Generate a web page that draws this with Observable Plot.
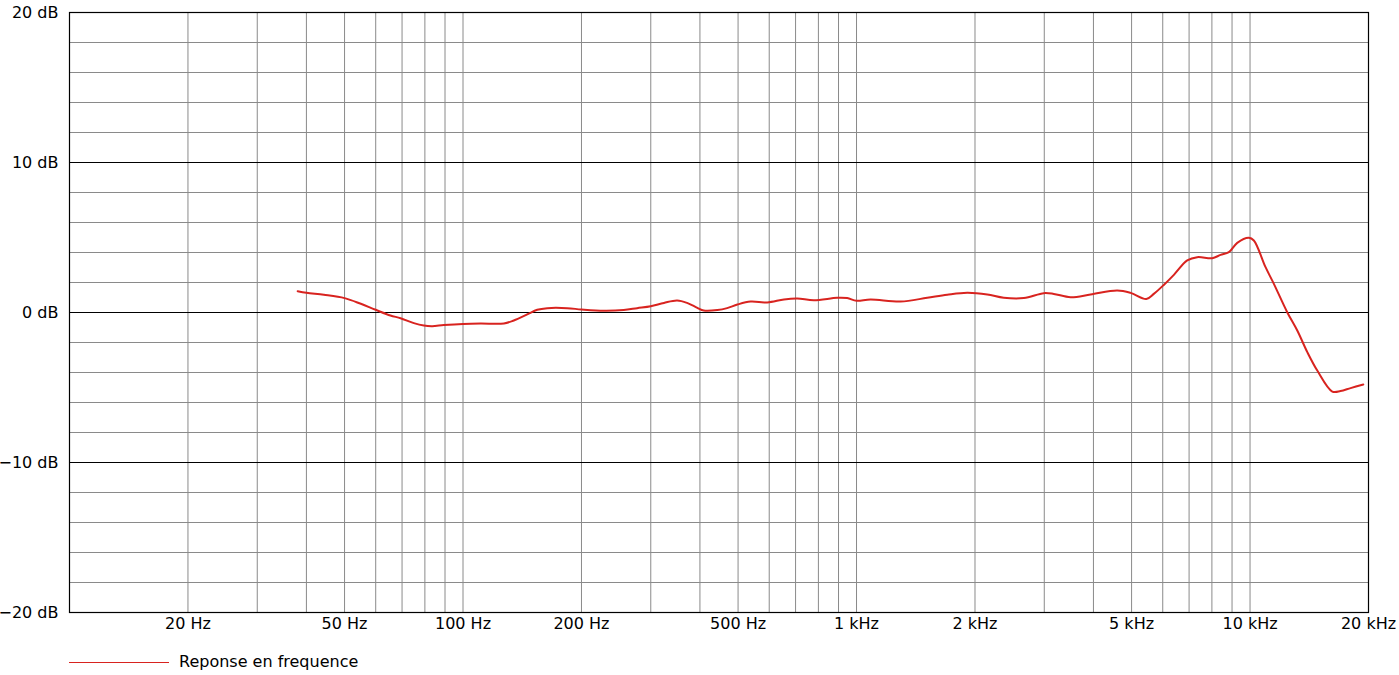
<!DOCTYPE html>
<html>
<head>
<meta charset="utf-8">
<script src="https://cdn.jsdelivr.net/npm/d3@7"></script>
<script src="https://cdn.jsdelivr.net/npm/@observablehq/plot@0.6"></script>
<style>
  html, body { margin: 0; padding: 0; background: #fff; }
  body { font-family: "DejaVu Sans", sans-serif; width: 1399px; height: 675px; overflow: hidden; }
  #legend { position: relative; height: 30px; font-size: 16px; color: #000; }
  #legend .swatch { position: absolute; left: 69px; top: 17px; width: 100px; height: 0; border-top: 1px solid #d8231f; }
  #legend .label { position: absolute; left: 179px; top: 7px; line-height: 20px; }
</style>
</head>
<body>
<div id="chart"></div>
<div id="legend"><span class="swatch"></span><span class="label">Reponse en frequence</span></div>
<script>
// Frequency response (Hz, dB)
const freqs = [38, 40, 44.3, 50, 55, 60, 65.4, 69.4, 75, 79.5, 83.5, 89.4, 100, 110.8, 127, 134.6, 145.6, 154.4, 163.7, 184, 200,
  228, 256, 277, 300, 324, 350, 371, 394, 409, 443, 469, 498, 538, 593, 654, 707, 779, 893, 947, 1000, 1085,
  1294, 1512, 1700, 1911, 2149, 2367, 2662, 2992, 3172, 3499, 3933, 4597, 4970, 5450, 5694, 6037, 6404, 6925,
  7340, 8017, 8414, 8834, 9278, 9931, 10225, 10950, 11496, 12430, 13183, 13980, 14820, 16180, 16980, 18010, 19400];
const dbs = [1.42, 1.31, 1.18, 0.96, 0.58, 0.18, -0.2, -0.38, -0.71, -0.87, -0.91, -0.84, -0.76, -0.73, -0.73, -0.53, -0.13, 0.18, 0.29, 0.29, 0.2,
  0.11, 0.16, 0.29, 0.42, 0.64, 0.8, 0.64, 0.31, 0.13, 0.16, 0.29, 0.53, 0.73, 0.67, 0.87, 0.93, 0.82, 0.98, 0.96, 0.78, 0.87,
  0.73, 0.98, 1.18, 1.31, 1.2, 0.98, 0.96, 1.29, 1.24, 1.02, 1.2, 1.47, 1.31, 0.9, 1.24, 1.84, 2.51, 3.47,
  3.69, 3.62, 3.84, 4.02, 4.64, 4.98, 4.8, 3.02, 1.91, 0.02, -1.2, -2.64, -3.87, -5.27, -5.24, -5.04, -4.8];

// Axis ticks and labels
const xTicks = [20, 50, 100, 200, 500, 1000, 2000, 5000, 10000, 20000];
const xLabels = ["20 Hz", "50 Hz", "100 Hz", "200 Hz", "500 Hz", "1 kHz", "2 kHz", "5 kHz", "10 kHz", "20 kHz"];
const yTicks = [-20, -10, 0, 10, 20];
const yLabels = ["\u221220 dB", "\u221210 dB", "0 dB", "10 dB", "20 dB"];

// Grid positions
const xGrid = [20, 30, 40, 50, 60, 70, 80, 90, 100, 200, 300, 400, 500, 600, 700, 800, 900,
  1000, 2000, 3000, 4000, 5000, 6000, 7000, 8000, 9000, 10000];
const yMinorGrid = [-18, -16, -14, -12, -8, -6, -4, -2, 2, 4, 6, 8, 12, 14, 16, 18];
const yMajorGrid = [-10, 0, 10];

const data = freqs.map((f, i) => ({f, db: dbs[i]}));
const xTickData = xTicks.map((t, i) => ({t, label: xLabels[i]}));
const yTickData = yTicks.map((t, i) => ({t, label: yLabels[i]}));

const chart = Plot.plot({
  width: 1399,
  height: 645,
  marginLeft: 69,
  marginRight: 31,
  marginTop: 12,
  marginBottom: 33,
  style: {fontFamily: "DejaVu Sans, sans-serif", fontSize: "16px", color: "#000", background: "#fff"},
  x: {type: "log", domain: [10, 20000], axis: null},
  y: {domain: [-20, 20], axis: null},
  marks: [
    Plot.ruleX(xGrid, {stroke: "#8a8a8a", strokeWidth: 1}),
    Plot.ruleY(yMinorGrid, {stroke: "#8a8a8a", strokeWidth: 1}),
    Plot.ruleY(yMajorGrid, {stroke: "#000", strokeWidth: 1.2}),
    Plot.frame({stroke: "#000", strokeWidth: 1.2}),
    Plot.text(xTickData, {x: "t", text: "label", frameAnchor: "bottom", lineAnchor: "middle", dy: 11, fontSize: 16, fill: "#000"}),
    Plot.text(yTickData, {y: "t", text: "label", frameAnchor: "left", textAnchor: "end", dx: -11, fontSize: 16, fill: "#000"}),
    Plot.line(data, {x: "f", y: "db", stroke: "#d8231f", strokeWidth: 2, curve: "catmull-rom"})
  ]
});
document.getElementById("chart").appendChild(chart);
</script>
</body>
</html>
